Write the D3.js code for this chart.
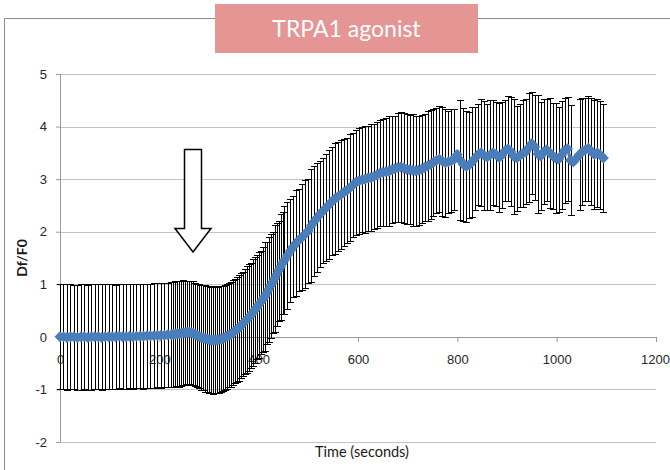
<!DOCTYPE html>
<html>
<head>
<meta charset="utf-8">
<script src="https://cdn.jsdelivr.net/npm/d3@7"></script>
<style>
  body { margin: 0; background: #fff; }
  svg { display: block; font-family: Lato, 'Open Sans', sans-serif; }
</style>
</head>
<body>
<svg width="670" height="470"></svg>
<script>
// sampling times (s)
const time = [
  0, 7, 14, 21, 28, 35, 42, 49, 56, 63,
  70, 77, 84, 91, 98, 105, 112, 119, 126, 133,
  140, 147, 154, 161, 168, 175, 182, 189, 196, 203,
  210, 217, 224,
  228, 232, 236, 240, 244, 248, 252, 256, 260, 264,
  268, 272, 276, 280, 284, 288, 292, 296, 300, 304,
  308, 312, 316, 320, 324, 328, 332, 336, 340, 344,
  348, 352, 356, 360, 364, 368, 372, 376, 380, 384,
  388, 392, 396, 400, 404, 408, 412, 416, 420, 424,
  428, 432, 436, 440, 444, 448, 452,
  458, 464, 470, 476, 482, 488, 494, 500, 506, 512,
  518, 524, 530, 536, 542, 548, 554, 560, 566, 572,
  578, 584, 590, 596, 602, 608, 614, 620, 626, 632,
  638, 644, 650, 656, 662, 668, 674, 680, 686, 692,
  698, 704, 710, 716, 722, 728, 734, 740, 746, 752,
  758, 764, 770, 776, 782, 788, 794, 800, 806, 812,
  818, 824, 830, 836, 842, 848, 854, 860, 866, 872,
  878, 884, 890, 896, 902, 908, 914, 920, 926, 932,
  938, 944, 950, 956, 962, 968, 974, 980, 986, 992,
  998, 1004, 1010, 1016, 1022, 1028, 1034, 1040, 1046, 1052,
  1058, 1064, 1070, 1076, 1082, 1088, 1094
];

// mean Df/F0
const dfMean = [
  0.00, 0.00, -0.01, 0.00, 0.00, -0.01, 0.00, 0.00, -0.01, 0.00,
  0.00, 0.00, -0.01, 0.00, 0.00, 0.00, 0.00, 0.01, 0.00, 0.00,
  0.01, 0.00, 0.01, 0.01, 0.01, 0.02, 0.02, 0.02, 0.03, 0.03,
  0.03, 0.04, 0.04,
  0.05, 0.05, 0.06, 0.06, 0.07, 0.08, 0.08, 0.09, 0.09, 0.08,
  0.07, 0.05, 0.03, 0.01, -0.01, -0.02, -0.03, -0.04, -0.05, -0.06,
  -0.06, -0.06, -0.06, -0.05, -0.04, -0.03, -0.01, 0.01, 0.03, 0.05,
  0.08, 0.11, 0.14, 0.17, 0.21, 0.25, 0.29, 0.33, 0.37, 0.41,
  0.46, 0.51, 0.56, 0.61, 0.66, 0.71, 0.77, 0.83, 0.90, 0.97,
  1.04, 1.11, 1.18, 1.26, 1.33, 1.40, 1.46,
  1.55, 1.64, 1.72, 1.79, 1.85, 1.90, 1.96, 2.02, 2.12, 2.20,
  2.27, 2.34, 2.40, 2.46, 2.52, 2.58, 2.63, 2.67, 2.71, 2.75,
  2.79, 2.84, 2.89, 2.94, 2.97, 2.99, 3.00, 3.02, 3.03, 3.05,
  3.08, 3.11, 3.13, 3.14, 3.15, 3.18, 3.20, 3.22, 3.23, 3.21,
  3.19, 3.18, 3.17, 3.16, 3.17, 3.19, 3.22, 3.25, 3.28, 3.32,
  3.36, 3.38, 3.34, 3.31, 3.33, 3.35, 3.38, 3.47, 3.36, 3.28,
  3.24, 3.27, 3.33, 3.40, 3.47, 3.50, 3.45, 3.42, 3.46, 3.50,
  3.47, 3.41, 3.46, 3.54, 3.58, 3.52, 3.43, 3.40, 3.45, 3.49,
  3.52, 3.60, 3.68, 3.61, 3.48, 3.44, 3.52, 3.56, 3.50, 3.44,
  3.40, 3.38, 3.46, 3.55, 3.58, 3.36, 3.33, 3.40, 3.47, 3.52,
  3.56, 3.59, 3.52, 3.47, 3.50, 3.46, 3.40
];

// standard deviation (null = no error bar drawn)
const dfSd = [
  1.00, 1.00, 1.01, 1.00, 0.99, 1.00, 1.01, 1.00, 1.00, 1.01,
  1.00, 1.00, 1.01, 1.00, 1.00, 1.00, 0.99, 0.99, 1.00, 1.00,
  0.99, 1.00, 0.99, 0.99, 1.00, 0.99, 0.99, 1.00, 0.99, 1.00,
  0.99, 0.99, 1.00,
  1.00, 1.01, 1.00, 1.01, 1.00, 1.00, 0.99, 0.98, 0.98, 0.99,
  0.99, 0.98, 0.98, 0.99, 1.00, 1.00, 1.01, 1.01, 1.01, 1.01,
  1.02, 1.01, 1.01, 1.02, 1.01, 1.00, 1.00, 1.00, 0.99, 1.00,
  1.00, 0.99, 1.00, 1.01, 1.00, 0.99, 1.00, 1.02, 1.01, 1.00,
  1.02, 1.00, 0.99, 1.01, 0.98, 1.00, 1.03, 0.97, 1.00, 0.99,
  0.96, 1.01, 0.98, 0.95, 1.00, 0.97, 1.03,
  1.02, 0.98, 0.96, 1.01, 0.97, 1.00, 1.03, 0.99, 1.08, 1.05,
  1.04, 1.01, 1.00, 1.02, 1.04, 1.03, 1.05, 1.04, 1.03, 1.02,
  1.00, 1.01, 0.99, 1.00, 1.01, 1.00, 1.02, 1.00, 1.01, 1.00,
  1.00, 1.01, 1.02, 1.03, 1.05, 1.02, 1.01, 1.03, 1.04, 1.05,
  1.05, 1.04, 1.06, 1.05, 1.04, 1.03, 1.02, 1.04, 1.03, 1.02,
  1.00, 1.01, 1.04, 1.03, 0.97, 0.98, 0.96, null, 1.14, 1.08,
  1.06, 1.00, 1.05, 0.98, 0.96, 1.02, 1.03, 1.01, 1.04, 1.00,
  0.99, 1.03, 1.00, 0.96, 1.00, 1.04, 1.10, 1.00, 0.98, 1.02,
  1.00, 1.03, 0.97, 1.00, 1.12, 1.02, 1.00, 0.97, 1.05, 1.01,
  1.04, 1.00, 1.02, 1.00, 0.99, 1.05, null, null, 1.06, 1.02,
  0.98, 1.00, 1.02, 1.04, 1.03, 1.03, 1.02
];

const xTicks = [0, 200, 400, 600, 800, 1000, 1200];
const yTicks = [-2, -1, 0, 1, 2, 3, 4, 5];

(function (d3) {
  'use strict';

  const svg = d3.select('svg');
  const width = +svg.attr('width');
  const height = +svg.attr('height');

  const title = 'TRPA1 agonist';
  const xAxisLabel = 'Time (seconds)';
  const yAxisLabel = 'Df/F0';
  const blue = '#4a7ebb';

  const data = time.map((t, i) => ({ t, mean: dfMean[i], sd: dfSd[i] }));

  const margin = { top: 74, right: 14, bottom: 28, left: 60 };
  const innerWidth = width - margin.left - margin.right;
  const innerHeight = height - margin.top - margin.bottom;

  // chart area frame
  svg.append('rect')
      .attr('x', 4.5)
      .attr('y', 18.5)
      .attr('width', 720)
      .attr('height', 520)
      .attr('fill', 'none')
      .attr('stroke', '#8c8c8c');

  const xScale = d3.scaleLinear()
    .domain([0, 1200])
    .range([0, innerWidth]);

  const yScale = d3.scaleLinear()
    .domain([-2, 5])
    .range([innerHeight, 0]);

  const snap = v => Math.round(v) + 0.5;

  const g = svg.append('g')
    .attr('transform', `translate(${margin.left},${margin.top})`);

  // gridlines
  g.append('g').selectAll('line').data(yTicks)
    .enter().append('line')
      .attr('x1', 0)
      .attr('x2', innerWidth)
      .attr('y1', d => snap(yScale(d)))
      .attr('y2', d => snap(yScale(d)))
      .attr('stroke', '#c3c3c3');

  const yAxis = d3.axisLeft(yScale)
    .tickValues(yTicks)
    .tickFormat(d => String(d))
    .tickSize(4)
    .tickSizeOuter(0)
    .tickPadding(9);

  const yAxisG = g.append('g').call(yAxis);
  yAxisG.select('.domain').attr('stroke', '#9a9a9a');
  yAxisG.selectAll('.tick line').attr('stroke', '#9a9a9a');
  yAxisG.selectAll('.tick text')
      .attr('font-size', 13)
      .attr('fill', '#262626');

  const xAxis = d3.axisBottom(xScale)
    .tickValues(xTicks)
    .tickFormat(d => String(d))
    .tickSize(5)
    .tickSizeOuter(0)
    .tickPadding(13);

  const xAxisG = g.append('g').call(xAxis)
    .attr('transform', `translate(0,${Math.round(yScale(0))})`);
  xAxisG.select('.domain').attr('stroke', '#9a9a9a');
  xAxisG.selectAll('.tick line').attr('stroke', '#9a9a9a');
  xAxisG.selectAll('.tick text')
      .attr('font-size', 13)
      .attr('fill', '#262626');
  // last label sits on the right edge, keep it inside the page
  xAxisG.selectAll('.tick text').filter(d => d === 1200).attr('dx', -1);

  svg.append('text')
      .attr('x', 362)
      .attr('y', 457)
      .attr('text-anchor', 'middle')
      .attr('font-size', 14.5)
      .attr('fill', '#1a1a1a')
      .text(xAxisLabel);

  svg.append('text')
      .attr('transform', `translate(27,${margin.top + innerHeight / 2}) rotate(-90)`)
      .attr('text-anchor', 'middle')
      .attr('font-size', 14)
      .attr('font-weight', 'bold')
      .attr('fill', '#1a1a1a')
      .text(yAxisLabel);

  // error bars
  const withSd = data.filter(d => d.sd != null);
  const errG = g.append('g')
      .attr('stroke', '#000')
      .attr('stroke-width', 1)
      .attr('shape-rendering', 'crispEdges');

  errG.selectAll('.stem').data(withSd)
    .enter().append('line')
      .attr('class', 'stem')
      .attr('x1', d => snap(xScale(d.t)))
      .attr('x2', d => snap(xScale(d.t)))
      .attr('y1', d => yScale(d.mean - d.sd))
      .attr('y2', d => yScale(d.mean + d.sd));

  ['upper', 'lower'].forEach(side => {
    const capY = d => snap(yScale(side === 'upper' ? d.mean + d.sd : d.mean - d.sd));
    errG.selectAll('.cap-' + side).data(withSd)
      .enter().append('line')
        .attr('class', 'cap-' + side)
        .attr('x1', d => Math.round(xScale(d.t)) - 3)
        .attr('x2', d => Math.round(xScale(d.t)) + 4)
        .attr('y1', capY)
        .attr('y2', capY);
  });

  // mean line and diamond markers
  const line = d3.line()
    .x(d => xScale(d.t))
    .y(d => yScale(d.mean));

  g.append('path')
      .datum(data)
      .attr('d', line)
      .attr('fill', 'none')
      .attr('stroke', blue)
      .attr('stroke-width', 3);

  const r = 5.5;
  g.selectAll('.marker').data(data)
    .enter().append('path')
      .attr('class', 'marker')
      .attr('transform', d => `translate(${xScale(d.t)},${yScale(d.mean)})`)
      .attr('d', `M0,${-r}L${r},0L0,${r}L${-r},0Z`)
      .attr('fill', blue);

  // stimulus arrow
  const arrowX = 193;
  svg.append('path')
      .attr('d', `M${arrowX - 8.5},149.5 H${arrowX + 8.5} V228.5 H${arrowX + 18} L${arrowX},252 L${arrowX - 18},228.5 H${arrowX - 8.5} Z`)
      .attr('fill', '#fff')
      .attr('stroke', '#000')
      .attr('stroke-width', 1.5);

  // title box
  svg.append('rect')
      .attr('x', 215)
      .attr('y', 4)
      .attr('width', 263)
      .attr('height', 49)
      .attr('fill', '#e59593');

  svg.append('text')
      .attr('x', 346.5)
      .attr('y', 37)
      .attr('text-anchor', 'middle')
      .attr('font-size', 23)
      .attr('fill', '#fff')
      .text(title);

}(d3));
</script>
</body>
</html>
